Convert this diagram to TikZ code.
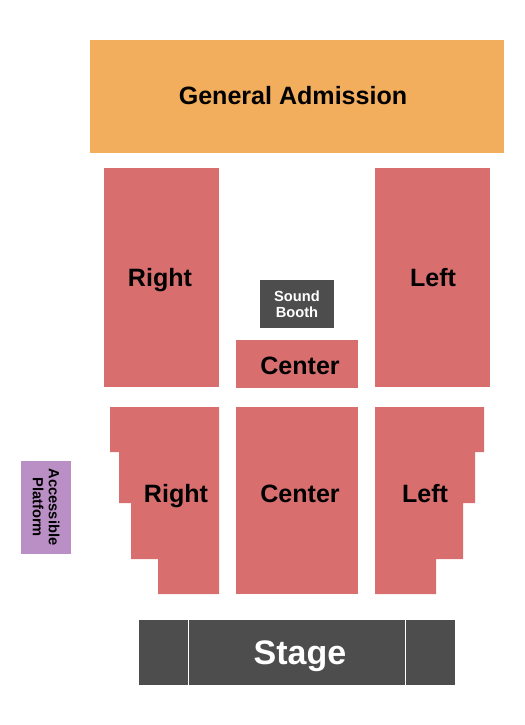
\documentclass[tikz,border=0pt]{standalone}
\usepackage{fontspec}
\setmainfont{Liberation Sans}
\definecolor{gaorange}{RGB}{242,174,92}
\definecolor{seatred}{RGB}{216,110,110}
\definecolor{darkgrey}{RGB}{77,77,77}
\definecolor{accpurple}{RGB}{186,143,198}
\tikzset{
  section/.style={fill=seatred, draw=none},
  lbl/.style={font=\bfseries\fontsize{18.8}{19}\selectfont, inner sep=0.75pt},
}
\begin{document}
\begin{tikzpicture}[x=0.75pt,y=0.75pt,yscale=-1,xscale=1]
        \useasboundingbox (0,0) rectangle (525,725);
        % general admission
        \fill [gaorange] (90,40) rectangle (504,153);
        \draw (293,96) node (ga) [lbl] {General Admission};
        % upper sections
        \fill [section] (104,168) rectangle (219,387);
        \draw (160,280) node (rightup) [lbl] {Right};
        \fill [section] (375,168) rectangle (490,387);
        \draw (433,278) node (leftup) [lbl] {Left};
        \fill [darkgrey] (260,280) rectangle (334,328);
        \draw (297,304) node (booth) [text=white, align=center, inner sep=0.75pt, font=\bfseries\fontsize{11}{12}\selectfont] {Sound\\Booth};
        \fill [section] (236,340) rectangle (358,388);
        \draw (300,366) node (centerup) [lbl] {Center};
        % lower sections
        \fill [section] (110,407) -- (219,407) -- (219,594) -- (158,594) -- (158,559) -- (131,559) -- (131,503) -- (119,503) -- (119,452) -- (110,452) -- cycle;
        \draw (176,496) node (rightlow) [lbl] {Right};
        \fill [section] (236,407) rectangle (358,594);
        \draw (300,494) node (centerlow) [lbl] {Center};
        \fill [section] (375,407) -- (484,407) -- (484,452) -- (475,452) -- (475,503) -- (463,503) -- (463,559) -- (436,559) -- (436,594) -- (375,594) -- cycle;
        \draw (425,494) node (leftlow) [lbl] {Left};
        % accessible platform
        \fill [accpurple] (21,461) rectangle (71,554);
        \draw (46,507) node (access) [rotate=-90, align=center, inner sep=0.75pt, font=\bfseries\fontsize{11}{12}\selectfont] {Accessible\\Platform};
        % stage
        \fill [darkgrey] (139,620) rectangle (455,685);
        \draw [white, line width=0.75pt] (188,620) -- (188,685);
        \draw [white, line width=0.75pt] (405,620) -- (405,685);
        \draw (300,656) node (stage) [text=white, inner sep=0.75pt, font=\bfseries\fontsize{25.5}{26}\selectfont] {Stage};
\end{tikzpicture}
\end{document}
